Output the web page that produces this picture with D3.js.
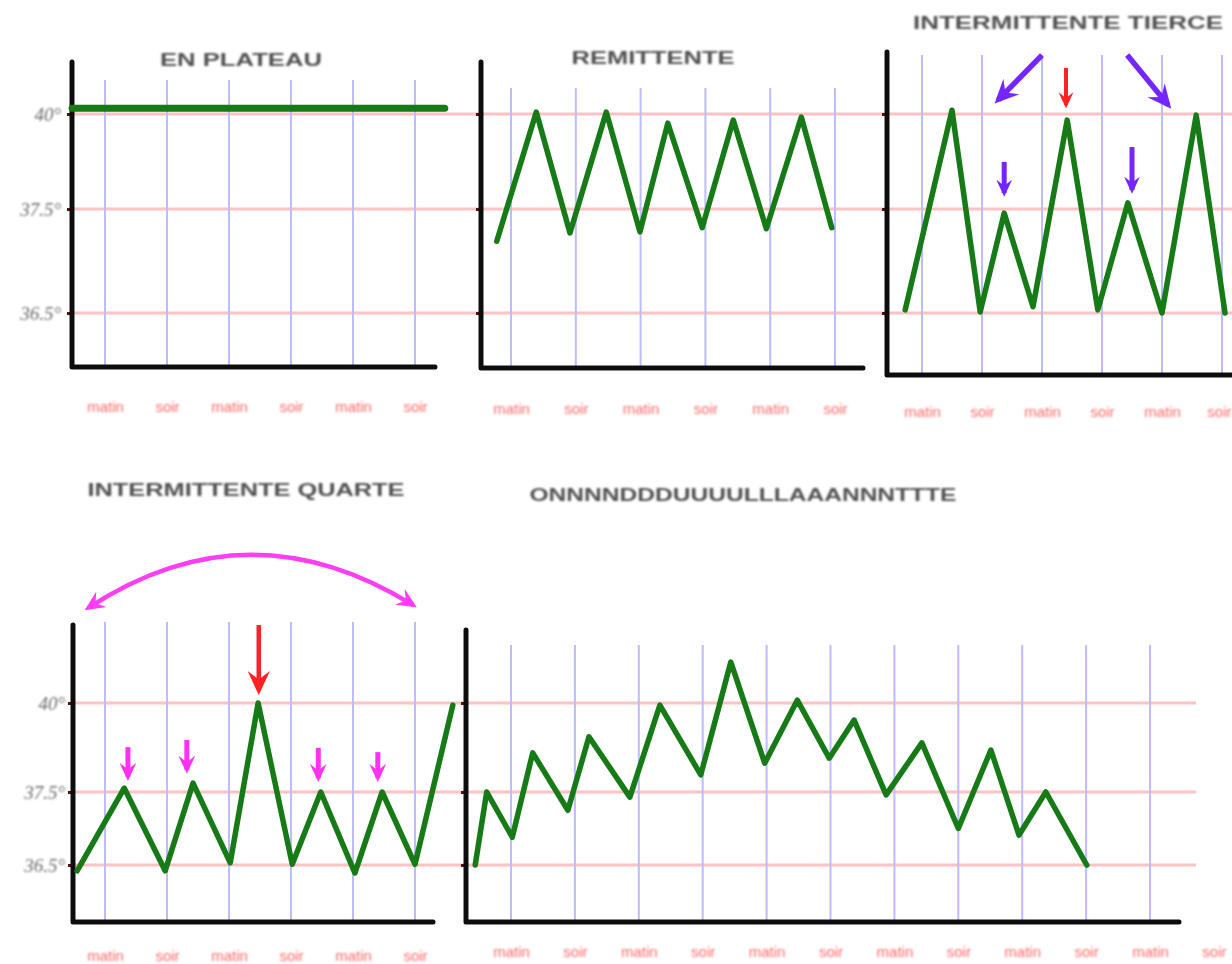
<!DOCTYPE html>
<html lang="fr">
<head>
<meta charset="UTF-8">
<title>Courbes de fièvre</title>
<script src="https://d3js.org/d3.v7.min.js"></script>
<style>
  html, body { margin: 0; padding: 0; background: #fff; overflow: hidden; }
  svg { display: block; }
</style>
</head>
<body>
<div id="chart"></div>
<script>
// temperatures of the three reference lines and their labels
const tempTicks = [36.5, 37.5, 40];
const tickLabels = ["36.5°", "37.5°", "40°"];
const moments = ["matin", "soir", "matin", "soir", "matin", "soir",
                 "matin", "soir", "matin", "soir", "matin", "soir"];

// slots = position in half-days (0 = first "matin" line), temps in °C
const plateauSlots = [-0.53, 5.48];
const plateauTemps = [40.15, 40.15];

const remittenteSlots = [-0.22, 0.39, 0.91, 1.47, 1.99, 2.42, 2.95, 3.43, 3.94, 4.48, 4.95];
const remittenteTemps = [37.19, 40.05, 37.27, 40.05, 37.28, 39.76, 37.32, 39.84, 37.31, 39.92, 37.32];

const tierceSlots = [-0.28, 0.5, 0.97, 1.37, 1.85, 2.42, 2.93, 3.43, 4.0, 4.57, 5.05];
const tierceTemps = [36.53, 40.1, 36.51, 37.46, 36.56, 39.84, 36.53, 37.66, 36.5, 39.97, 36.5];

const quarteSlots = [-0.45, 0.31, 0.97, 1.42, 2.02, 2.47, 3.02, 3.48, 4.03, 4.47, 5.0, 5.61];
const quarteTemps = [36.42, 37.61, 36.42, 37.75, 36.53, 40.0, 36.51, 37.5, 36.39, 37.5, 36.51, 39.94];

const ondulanteSlots = [-0.56, -0.38, 0.02, 0.34, 0.89, 1.22, 1.86, 2.33, 2.97, 3.44, 3.97,
                        4.48, 4.98, 5.37, 5.87, 6.43, 7.0, 7.51, 7.95, 8.37, 9.01];
const ondulanteTemps = [36.5, 37.5, 36.88, 38.6, 37.25, 39.05, 37.43, 39.94, 37.98, 41.15, 38.31,
                        40.08, 38.45, 39.52, 37.46, 38.88, 37.0, 38.68, 36.91, 37.5, 36.5];

// annotation arrows, in the same slot / temperature units
const tierceArrowStart = [[2.0, 41.55], [2.4, 41.21], [3.42, 41.55], [1.37, 38.74], [3.5, 39.13]];
const tierceArrowEnd   = [[1.27, 40.37], [2.4, 40.24], [4.1, 40.24], [1.37, 37.92], [3.5, 38.0]];
const tierceArrowKind  = ["cycle", "pic", "cycle", "petit", "petit"];

const quarteArrowStart = [[2.48, 42.19], [0.37, 38.76], [1.32, 38.96], [3.44, 38.74], [4.4, 38.62]];
const quarteArrowEnd   = [[2.48, 40.37], [0.37, 37.92], [1.32, 38.12], [3.44, 37.89], [4.4, 37.89]];
const quarteArrowKind  = ["grandpic", "petit4", "petit4", "petit4", "petit4"];
const quarteSpan = [[-0.27, 42.67], [2.31, 45.62], [4.97, 42.75]];   // start, control, end

// colour, stem width, head size per kind of arrow
const arrowStyle = {
    cycle:    ["#7426ff", 5.5, 24],
    petit:    ["#7426ff", 5,   17],
    pic:      ["#ff2222", 4,   16],
    grandpic: ["#ff2222", 4.5, 24],
    petit4:   ["#ff33f0", 5,   18],
    span:     ["#ff3cf5", 4.5, 20]
};

const W = 1232, H = 964;
const svg = d3.select("#chart").append("svg")
    .attr("width", W).attr("height", H)
    .attr("viewBox", `0 0 ${W} ${H}`);

const defs = svg.append("defs");
defs.append("filter").attr("id", "soft")
    .append("feGaussianBlur").attr("stdDeviation", 0.6);
defs.append("filter").attr("id", "softer")
    .append("feGaussianBlur").attr("stdDeviation", 0.9);

Object.entries(arrowStyle).forEach(([k, [c, , s]]) => {
    defs.append("marker")
        .attr("id", "head-" + k)
        .attr("viewBox", "0 0 14 14")
        .attr("refX", 11).attr("refY", 7)
        .attr("markerUnits", "userSpaceOnUse")
        .attr("markerWidth", s).attr("markerHeight", s)
        .attr("orient", "auto-start-reverse")
        .append("path")
        .attr("d", "M0,0.5L14,7L0,13.5L5,7Z")
        .attr("fill", c);
});

const root = svg.append("g").attr("filter", "url(#soft)");

const topRange = [313, 209, 114];
const bottomRange = [865, 792, 703];

const panels = [
    { title: "EN PLATEAU", tx: 241, ty: 60, tw: 162,
      slots: plateauSlots, temps: plateauTemps, yr: topRange,
      axisX: 72, top: 62, bottom: 367, right: 435, x0: 105, step: 62,
      lines: 6, labels: 6, blueTop: 80, gridL: 72, gridR: 460, pad: 34, yLabels: true, yPad: 6 },
    { title: "REMITTENTE", tx: 653, ty: 58, tw: 163,
      slots: remittenteSlots, temps: remittenteTemps, yr: topRange,
      axisX: 481, top: 62, bottom: 368, right: 863, x0: 511, step: 64.8,
      lines: 6, labels: 6, blueTop: 88, gridL: 460, gridR: 880, pad: 35, yLabels: false },
    { title: "INTERMITTENTE TIERCE", tx: 1068, ty: 23, tw: 310,
      slots: tierceSlots, temps: tierceTemps, yr: topRange,
      axisX: 887, top: 52, bottom: 375, right: 1240, x0: 922, step: 60,
      lines: 6, labels: 6, blueTop: 55, gridL: 880, gridR: 1232, pad: 31, yLabels: false,
      arrows: [tierceArrowStart, tierceArrowEnd, tierceArrowKind] },
    { title: "INTERMITTENTE QUARTE", tx: 246, ty: 490, tw: 317,
      slots: quarteSlots, temps: quarteTemps, yr: bottomRange,
      axisX: 73, top: 625, bottom: 922, right: 433, x0: 105, step: 62,
      lines: 6, labels: 6, blueTop: 622, gridL: 73, gridR: 466, pad: 28, yLabels: true, yPad: 0,
      arrows: [quarteArrowStart, quarteArrowEnd, quarteArrowKind], span: quarteSpan },
    { title: "ONNNNDDDUUUULLLAAANNNTTTE", tx: 743, ty: 495, tw: 427,
      slots: ondulanteSlots, temps: ondulanteTemps, yr: bottomRange,
      axisX: 466, top: 630, bottom: 922, right: 1179, x0: 511, step: 63.9,
      lines: 11, labels: 12, blueTop: 645, gridL: 466, gridR: 1196, pad: 24, yLabels: false }
];

panels.forEach(p => {
    const g = root.append("g");
    const x = d3.scaleLinear().domain([0, 1]).range([p.x0, p.x0 + p.step]);
    const y = d3.scaleLinear().domain(tempTicks).range(p.yr);

    // pink reference lines
    g.selectAll(".hline").data(tempTicks).join("line")
        .attr("class", "hline")
        .attr("x1", p.gridL).attr("x2", p.gridR)
        .attr("y1", d => y(d)).attr("y2", d => y(d))
        .attr("stroke", "#ffc2c2").attr("stroke-width", 3);

    // blue half-day lines
    g.selectAll(".vline").data(d3.range(p.lines)).join("line")
        .attr("class", "vline")
        .attr("x1", d => x(d)).attr("x2", d => x(d))
        .attr("y1", p.blueTop).attr("y2", p.bottom)
        .attr("stroke", "#bcbcff").attr("stroke-width", 2);

    // y ticks
    const ya = g.append("g")
        .attr("transform", `translate(${p.axisX},0)`)
        .call(d3.axisLeft(y).tickValues(tempTicks).tickSize(5)
            .tickPadding(p.yPad || 3)
            .tickFormat((d, i) => p.yLabels ? tickLabels[i] : ""));
    ya.select(".domain").remove();
    ya.selectAll("line").attr("stroke", "#5a1010").attr("stroke-width", 3);
    ya.selectAll("text")
        .attr("fill", "#6a6a6a")
        .attr("font-size", null)
        .attr("filter", "url(#softer)")
        .style("font-family", "'Liberation Serif', serif")
        .style("font-style", "italic")
        .style("font-size", "19px");

    // x labels
    const xa = g.append("g")
        .attr("transform", `translate(0,${p.bottom})`)
        .call(d3.axisBottom(x).tickValues(d3.range(p.labels)).tickSize(0)
            .tickPadding(p.pad).tickFormat(i => moments[i]));
    xa.select(".domain").remove();
    xa.selectAll("text")
        .attr("fill", "#ff6868")
        .attr("filter", "url(#softer)")
        .style("font-family", "'Liberation Sans', Arial, sans-serif")
        .style("font-size", "15px")
        .each(function () {
            // keep a label that would run past the page edge inside it
            const b = this.getBBox();
            const gx = d3.select(this.parentNode).datum();
            if (x(gx) + b.x + b.width > W - 1) {
                d3.select(this).attr("text-anchor", "end").attr("x", W - 1 - x(gx));
            }
        });

    // axes
    g.append("path")
        .attr("d", `M${p.axisX},${p.top}V${p.bottom}H${p.right}`)
        .attr("fill", "none").attr("stroke", "#111")
        .attr("stroke-width", 5)
        .attr("stroke-linecap", "round").attr("stroke-linejoin", "round");

    // fever curve
    const line = d3.line().x(d => x(d[0])).y(d => y(d[1]));
    g.append("path")
        .datum(d3.zip(p.slots, p.temps))
        .attr("d", line)
        .attr("fill", "none").attr("stroke", "#157a15")
        .attr("stroke-width", p.slots.length === 2 ? 7 : 5.5)
        .attr("stroke-linejoin", "round").attr("stroke-linecap", "round");

    // arrows
    if (p.arrows) {
        const [starts, ends, kinds] = p.arrows;
        g.selectAll(".arrow").data(d3.range(starts.length)).join("line")
            .attr("class", "arrow")
            .attr("x1", i => x(starts[i][0])).attr("y1", i => y(starts[i][1]))
            .attr("x2", i => x(ends[i][0])).attr("y2", i => y(ends[i][1]))
            .attr("stroke", i => arrowStyle[kinds[i]][0])
            .attr("stroke-width", i => arrowStyle[kinds[i]][1])
            .attr("marker-end", i => `url(#head-${kinds[i]})`);
    }
    if (p.span) {
        const [a, c, b] = p.span;
        const path = d3.path();
        path.moveTo(x(a[0]), y(a[1]));
        path.quadraticCurveTo(x(c[0]), y(c[1]), x(b[0]), y(b[1]));
        g.append("path")
            .attr("d", path.toString())
            .attr("fill", "none").attr("stroke", arrowStyle.span[0])
            .attr("stroke-width", arrowStyle.span[1])
            .attr("marker-start", "url(#head-span)")
            .attr("marker-end", "url(#head-span)");
    }

    // title
    g.append("text")
        .attr("x", p.tx).attr("y", p.ty)
        .attr("text-anchor", "middle").attr("dy", "0.35em")
        .attr("textLength", p.tw).attr("lengthAdjust", "spacingAndGlyphs")
        .attr("fill", "#505050")
        .attr("filter", "url(#softer)")
        .style("font-family", "'Liberation Sans', Arial, sans-serif")
        .style("font-weight", "bold")
        .style("font-size", "18px")
        .text(p.title);
});
</script>
</body>
</html>
